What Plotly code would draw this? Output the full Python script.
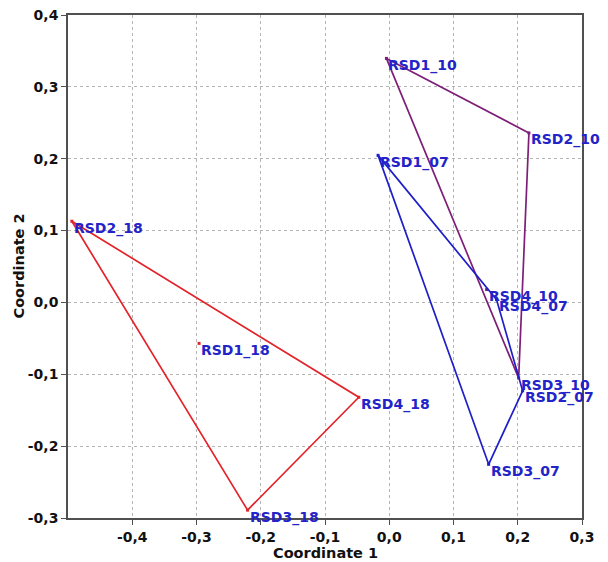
import plotly.graph_objects as go

# ---- data ----
names_18 = ["RSD1_18", "RSD2_18", "RSD3_18", "RSD4_18"]
x_18 = [-0.296, -0.494, -0.2205, -0.0474]
y_18 = [-0.057, 0.113, -0.289, -0.132]
hull_18 = [1, 3, 2, 1]

names_10 = ["RSD1_10", "RSD2_10", "RSD3_10", "RSD4_10"]
x_10 = [-0.0044, 0.2174, 0.2014, 0.1516]
y_10 = [0.3396, 0.2359, -0.1053, 0.0179]
hull_10 = [0, 1, 2, 0]

names_07 = ["RSD1_07", "RSD2_07", "RSD3_07", "RSD4_07"]
x_07 = [-0.0174, 0.2076, 0.1547, 0.167]
y_07 = [0.2047, -0.123, -0.2253, 0.0039]
hull_07 = [0, 3, 1, 2, 0]

x_ticks = [-0.4, -0.3, -0.2, -0.1, 0.0, 0.1, 0.2, 0.3]
x_ticktext = ["-0,4", "-0,3", "-0,2", "-0,1", "0,0", "0,1", "0,2", "0,3"]
y_ticks = [-0.3, -0.2, -0.1, 0.0, 0.1, 0.2, 0.3, 0.4]
y_ticktext = ["-0,3", "-0,2", "-0,1", "0,0", "0,1", "0,2", "0,3", "0,4"]

groups = [
    (names_18, x_18, y_18, hull_18, "#e3232a"),
    (names_10, x_10, y_10, hull_10, "#7d1f78"),
    (names_07, x_07, y_07, hull_07, "#1f1fc8"),
]

label_color = "#2323c8"
font_family = "DejaVu Sans"

fig = go.Figure()
annotations = []
for names, xs, ys, hull, color in groups:
    fig.add_trace(go.Scatter(
        x=[xs[i] for i in hull], y=[ys[i] for i in hull],
        mode="lines", line=dict(color=color, width=1.7),
        hoverinfo="skip", showlegend=False))
    fig.add_trace(go.Scatter(
        x=xs, y=ys, mode="markers",
        marker=dict(symbol="square", size=3, color=color),
        showlegend=False, text=names))
    for n, xv, yv in zip(names, xs, ys):
        annotations.append(dict(
            x=xv, y=yv, xref="x", yref="y", text=n, showarrow=False,
            xanchor="left", yanchor="middle", xshift=0, yshift=-7,
            font=dict(family=font_family, size=14, color=label_color,
                      weight="bold")))

annotations.append(dict(
    x=0.5, y=0, xref="paper", yref="paper", text="Coordinate 1",
    showarrow=False, xanchor="center", yanchor="middle", yshift=-35,
    font=dict(family=font_family, size=14.5, color="#111111", weight="bold")))
annotations.append(dict(
    x=0, y=0.5, xref="paper", yref="paper", text="Coordinate 2",
    showarrow=False, xanchor="center", yanchor="middle", xshift=-50,
    textangle=-90,
    font=dict(family=font_family, size=14.5, color="#111111", weight="bold")))

axis_common = dict(
    showgrid=True, gridcolor="#b4b4b4", griddash="dot", gridwidth=1,
    zeroline=False, showline=True, linecolor="#505050", linewidth=1.6,
    mirror=True, ticks="outside", ticklen=5, tickcolor="#505050",
    automargin=False, ticklabeloverflow="allow",
    tickfont=dict(family=font_family, size=14, color="#111111", weight="bold"),
)

fig.update_xaxes(range=[-0.5, 0.3], tickvals=x_ticks, ticktext=x_ticktext,
                 **axis_common)
fig.update_yaxes(range=[-0.3, 0.4], tickvals=y_ticks, ticktext=y_ticktext,
                 **axis_common)

fig.update_layout(
    width=600, height=554,
    margin=dict(l=60, r=26, t=7, b=44, autoexpand=False),
    paper_bgcolor="white", plot_bgcolor="white",
    annotations=annotations,
    showlegend=False,
)

fig.write_html("out.html")
